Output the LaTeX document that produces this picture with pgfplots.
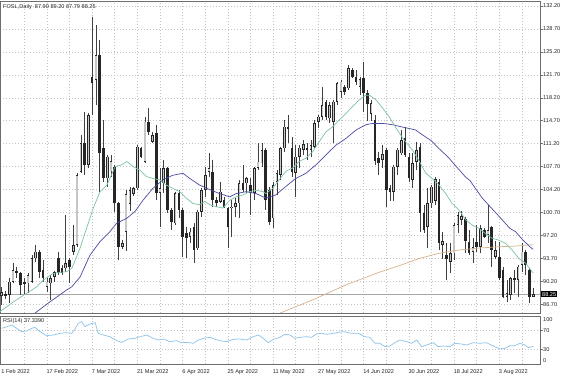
\documentclass[border=0pt]{standalone}
\usepackage{fontspec}
\setmainfont{Liberation Sans}
\usepackage{pgfplots}
\usepackage{pgfplotstable}
\pgfplotsset{compat=1.18}
\definecolor{maGreen}{RGB}{125,195,160}
\definecolor{maBlue}{RGB}{75,75,165}
\definecolor{maTan}{RGB}{215,180,140}
\definecolor{rsiBlue}{RGB}{140,195,232}
\definecolor{gridc}{RGB}{195,195,195}
\definecolor{framec}{RGB}{110,110,110}
\newcommand\chartfont{\fontsize{5.6bp}{6.5bp}\selectfont}

\pgfplotstableread{
k O H L C
0 88.00 89.40 86.60 88.60
1 88.30 88.70 87.60 88.00
2 88.15 90.70 86.90 90.20
3 90.20 92.97 89.90 91.96
4 91.80 92.47 90.69 91.45
5 91.45 91.70 88.15 89.67
6 90.18 90.69 88.15 89.77
7 89.93 91.45 88.40 91.20
8 90.18 94.25 89.93 93.74
9 93.74 95.77 93.23 94.75
10 94.75 95.01 90.69 91.70
11 91.96 93.48 90.18 90.69
12 89.42 90.69 88.66 90.18
13 89.93 91.20 87.39 90.69
14 90.94 91.80 90.18 91.60
15 93.74 94.75 91.20 91.45
16 92.21 92.72 91.20 91.45
17 92.21 100.34 91.70 92.97
18 93.48 93.74 89.93 92.47
19 94.75 98.82 94.25 95.77
20 95.77 106.70 95.50 106.44
21 106.95 112.54 106.70 111.27
22 111.27 116.10 106.44 107.96
23 107.96 115.84 107.46 115.59
24 121.43 130.58 115.59 120.41
25 120.92 129.31 117.11 124.73
26 124.73 127.02 103.90 109.74
27 110.50 114.82 105.42 105.93
28 105.93 109.49 104.66 109.24
29 107.00 109.50 106.20 108.50
30 107.71 107.96 100.85 102.12
31 102.12 102.38 93.48 95.51
32 95.50 96.60 95.10 96.10
33 97.80 104.10 94.80 103.50
34 102.00 104.60 101.00 104.10
35 103.60 104.60 103.30 104.40
36 104.41 111.00 104.15 110.76
37 110.50 110.76 108.98 109.24
38 108.47 115.33 108.22 114.57
39 114.57 116.60 112.50 113.04
40 111.50 113.05 111.27 112.50
41 112.79 114.06 102.60 103.65
42 103.65 107.46 98.50 104.40
43 105.17 108.73 103.65 107.46
44 107.46 107.71 100.60 101.10
45 101.10 101.36 98.06 99.33
46 99.07 103.90 98.82 103.65
47 103.65 104.15 99.83 101.10
48 101.10 101.36 93.99 97.04
49 97.55 98.56 93.74 96.79
50 97.04 98.31 96.02 97.80
51 98.56 99.07 92.97 95.01
52 95.26 101.10 95.01 100.85
53 100.85 104.41 100.09 104.15
54 104.15 107.71 103.14 106.44
55 106.95 109.74 106.19 107.46
56 106.95 108.73 101.61 102.63
57 102.63 103.14 101.61 102.12
58 102.38 105.42 102.12 103.90
59 102.63 103.14 101.36 101.61
60 101.36 101.61 95.26 98.56
61 101.36 102.63 97.04 101.61
62 101.61 102.88 100.09 102.12
63 102.12 105.68 99.83 105.17
64 105.17 107.96 103.90 104.15
65 105.17 106.19 103.65 105.93
66 104.92 105.93 100.34 103.65
67 103.65 107.71 102.63 107.46
68 107.46 111.27 107.20 108.47
69 108.22 111.27 107.71 110.25
70 110.25 110.50 101.10 102.63
71 104.16 104.66 98.82 99.32
72 99.83 105.42 98.31 104.90
73 105.42 107.20 103.39 106.70
74 106.44 110.75 105.68 110.50
75 110.50 114.80 110.00 113.80
76 113.80 115.58 111.27 113.55
77 110.50 112.28 106.19 106.95
78 106.70 111.00 103.14 109.24
79 109.24 111.00 107.46 110.60
80 110.25 111.77 109.49 111.10
81 110.50 111.27 108.73 110.25
82 110.25 111.77 109.24 111.00
83 110.76 114.80 110.50 114.30
84 114.57 115.58 113.55 115.33
85 115.33 119.90 114.82 117.11
86 117.62 117.87 114.82 115.33
87 115.08 117.62 114.30 117.11
88 114.57 117.87 111.27 117.62
89 117.62 120.66 117.11 120.41
90 119.14 120.92 118.12 120.66
91 119.90 120.16 118.63 119.14
92 119.65 123.20 119.40 122.70
93 122.44 122.70 121.17 121.43
94 121.43 122.44 120.16 120.66
95 119.90 121.40 118.60 121.00
96 121.17 123.71 116.09 118.90
97 119.00 119.40 114.60 117.20
98 115.80 117.90 114.60 117.40
99 114.80 115.60 107.90 108.50
100 109.00 110.00 106.50 108.20
101 108.70 111.00 107.50 109.60
102 110.20 110.50 101.60 104.20
103 104.40 104.90 102.40 103.90
104 103.90 108.00 102.40 107.70
105 107.70 110.50 106.40 110.30
106 109.74 113.30 109.49 111.78
107 112.00 113.80 109.20 109.50
108 109.24 109.74 105.40 105.93
109 105.68 109.74 104.41 108.22
110 108.47 111.52 107.20 110.25
111 110.76 111.27 97.80 100.60
112 100.60 101.87 97.55 98.06
113 98.57 104.41 95.26 102.12
114 102.12 104.92 101.36 104.66
115 102.50 106.20 101.90 105.80
116 105.30 105.90 95.00 96.00
117 95.80 97.80 93.70 96.30
118 94.30 96.00 90.50 93.60
119 93.23 96.02 91.45 94.50
120 94.50 99.07 93.50 98.82
121 98.82 100.85 97.55 100.35
122 99.60 100.90 98.80 100.20
123 99.80 100.10 94.50 96.30
124 96.28 98.06 94.25 94.50
125 94.75 96.80 93.00 95.50
126 96.28 98.82 94.75 95.52
127 95.52 98.82 94.50 98.31
128 98.06 98.31 96.80 97.04
129 97.30 101.87 96.02 98.06
130 98.57 98.60 92.47 95.01
131 94.00 96.30 93.70 95.00
132 94.00 96.28 90.44 90.69
133 91.96 92.47 87.64 87.90
134 87.90 90.44 87.13 88.40
135 88.15 90.94 87.39 90.69
136 90.69 91.96 88.40 90.44
137 90.44 92.72 87.90 92.47
138 92.72 96.02 91.71 94.75
139 94.75 95.01 91.20 92.72
140 91.96 92.21 86.88 87.90
141 87.90 89.20 87.79 88.25
}\ohlc

\begin{document}
\begin{tikzpicture}
\useasboundingbox (0,0) rectangle (564bp,376bp);
\fill[white] (0,0) rectangle (564bp,376bp);
% ---------------- main price panel ----------------
\begin{axis}[
  at={(0bp,63bp)}, anchor=south west, scale only axis,
  width=540bp, height=312bp,
  xmin=-0.45, xmax=142.8, ymin=85.4, ymax=132.96,
  clip mode=individual,
  axis line style={framec, line width=0.9bp},
  xtick={6,12,...,138}, xticklabels={}, xtick style={draw=none},
  ytick={86.7,90.2,93.7,97.2,100.7,104.2,107.7,111.2,114.7,118.2,121.7,125.2,128.7,132.2},
  ytick pos=right, yticklabel pos=right,
  tick align=outside, major tick length=2.5bp,
  ytick style={framec, line width=0.6bp},
  /pgf/number format/assume math mode=true,
  yticklabel={\pgfmathprintnumber[fixed,fixed zerofill,precision=2]{\tick}},
  yticklabel style={font=\chartfont, anchor=west, xshift=-0.5bp, inner sep=1bp, text=black!85},
  grid=major, grid style={gridc, line width=0.6bp, dash pattern=on 1bp off 2bp},
]
% current price line
\addplot[black!35, line width=0.6bp] coordinates {(-0.45,88.25) (142.8,88.25)};
% wicks
\addplot[draw=none, mark=none, error bars/.cd, y dir=minus, y explicit, error mark=none,
  error bar style={draw=black!75, line width=0.6bp}]
  table[x=k, y=H, y error minus expr=\thisrow{H}-\thisrow{L}] {\ohlc};
% bodies (outline / bear)
\addplot[draw=none, mark=none, error bars/.cd, y dir=both, y explicit, error mark=none,
  error bar style={draw=black!85, line width=2.6bp}]
  table[x=k, y expr=(\thisrow{O}+\thisrow{C})/2, y error expr={max(abs(\thisrow{O}-\thisrow{C})/2,0.09)}] {\ohlc};
% bull interiors
\addplot[draw=none, mark=none, error bars/.cd, y dir=both, y explicit, error mark=none,
  error bar style={draw=black!22, line width=1.2bp}]
  table[x=k, y expr=(\thisrow{O}+\thisrow{C})/2, y error expr={max((\thisrow{C}-\thisrow{O})/2-0.12,0)}] {\ohlc};
% moving averages
\addplot[maTan, line width=0.7bp] coordinates {(73.9,85.4) (82.9,87.5) (91.8,89.8) (100.6,91.7) (105.9,92.7) (110.7,93.7) (116,94.5) (121.3,95) (126.6,95.3) (131.9,95.5) (136.3,95.6) (140.3,95.8) (141,95.8)};
\addplot[maBlue, line width=0.7bp] coordinates {(8.4,85.2) (12.8,87.1) (17.2,88.9) (18.6,89.4) (20.8,90.9) (23.4,94.2) (26.1,96.3) (28.7,97.8) (30.5,99.1) (33.1,99.8) (35.4,100.9) (37.5,102.6) (40.1,104.4) (42.8,105.7) (45.4,106.4) (48.1,106.7) (49.9,105.9) (52.5,104.9) (55.2,104.2) (57.8,103.6) (60.5,103.1) (62.2,103.6) (64.9,103.9) (67.5,103.6) (70.1,102.9) (72.7,103.4) (75.4,104.7) (78,105.9) (80.7,106.7) (83.4,108) (86,109.5) (88.7,111) (91.3,112) (94,113.3) (96.6,114.1) (98.4,114.3) (101.1,114.3) (103.7,114.1) (105.9,113.8) (109.8,113.3) (111,112.8) (114.1,111.6) (115.4,110.8) (118.7,109.0) (119.7,108.3) (123.1,106.1) (124.2,105.6) (127.5,102.9) (131.5,100.4) (134.8,98.3) (136.3,97.8) (138.3,96.5) (140.5,95.3) (141,95.1)};
\addplot[maGreen, line width=0.7bp] coordinates {(-0.45,85.6) (3.1,87.1) (6.6,88.4) (9.3,89.4) (11,90.4) (13.7,91.45) (17.2,91.7) (18.6,92.2) (20.8,95.3) (22.5,98.3) (24.3,101.4) (26.1,103.9) (27.9,104.9) (30.1,107.7) (31.8,108.0) (33.2,108.5) (34.9,107.7) (36.6,107.2) (38.4,106.2) (40.1,105.9) (41.9,105.7) (43.7,104.9) (45.4,104.4) (47.2,103.9) (49,102.9) (50.7,102.1) (52.5,101.9) (53.8,102.4) (55.2,101.9) (56.9,101.6) (58.7,101.4) (60.5,102.6) (62.2,103.1) (64,103.4) (65.8,103.9) (67.5,104.1) (69.3,103.9) (70.1,103.6) (71.9,104.4) (73.6,105.7) (75.4,107) (77.2,107.5) (78.9,108.5) (80.7,109) (82.5,110) (84.2,111.5) (86,113) (87.8,113.8) (89.5,114.8) (91.3,115.8) (93.1,116.9) (94.9,117.9) (96.6,118.6) (97.5,118.6) (99.3,117.9) (101.1,116.6) (102.8,115.3) (104.6,113.6) (106.7,111.8) (108.9,110.3) (110.7,108.6) (112.5,106.7) (114.2,105.9) (116,104.9) (117.8,103.6) (119.5,102.1) (121.3,101.1) (123.1,99.6) (124.8,98.8) (126.6,98.3) (128.4,97.5) (130.1,96.8) (131.9,96.5) (133.7,96) (135.4,95) (137.2,93.7) (139,93) (140.3,92) (141,91.5)};
\node[font=\chartfont, anchor=north west, inner sep=0pt, text=black!85] at (rel axis cs:0,1) [xshift=3bp, yshift=-3.5bp] {FOSL,Daily\ \ 87.90 89.20 87.79 88.25};
\node[font=\chartfont, anchor=west, fill=black, text=white, inner sep=1bp] at (axis cs:142.8,88.25) [xshift=1bp] {88.25};
\end{axis}
% ---------------- RSI panel ----------------
\begin{axis}[
  at={(0bp,12bp)}, anchor=south west, scale only axis,
  width=540bp, height=48bp,
  xmin=-0.45, xmax=142.8, ymin=0, ymax=100,
  clip mode=individual,
  axis line style={framec, line width=0.9bp},
  xtick={6,12,...,138},
  xticklabels={{},17 Feb 2022,{},7 Mar 2022,{},21 Mar 2022,{},6 Apr 2022,{},25 Apr 2022,{},11 May 2022,{},27 May 2022,{},14 Jun 2022,{},30 Jun 2022,{},18 Jul 2022,{},3 Aug 2022,{}},
  extra x ticks={0}, extra x tick labels={1 Feb 2022}, extra x tick style={grid=none},
  xtick style={draw=none},
  xticklabel style={font=\chartfont, anchor=north west, inner sep=0pt, xshift=-0.5bp, yshift=-2.5bp, text=black!85},
  ytick={30,70}, ytick pos=right, yticklabel pos=right,
  tick align=outside, major tick length=2.5bp,
  ytick style={framec, line width=0.6bp},
  /pgf/number format/assume math mode=true,
  yticklabel={\pgfmathprintnumber{\tick}},
  yticklabel style={font=\chartfont, anchor=west, xshift=-0.5bp, inner sep=1bp, text=black!85},
  grid=major, grid style={gridc, line width=0.6bp, dash pattern=on 1bp off 2bp},
]
\addplot[rsiBlue, line width=0.7bp] coordinates {(0,74.3) (0.88,76.4) (2.64,81.3) (3.97,74.3) (5.3,67.4) (6.6,68.8) (7.95,74.3) (8.83,76.4) (10.2,67.4) (11.9,59) (13.7,60.4) (15.5,63.9) (17.2,65.3) (18.6,63.9) (19.4,72.2) (20.3,84.7) (21.2,88.2) (22.1,77.8) (23.4,83.3) (24.8,86.1) (25.6,63.9) (27,60.4) (28.7,56.9) (30.5,48.6) (31.8,45.1) (33.6,52.1) (35.4,53.5) (36.7,56.9) (38.5,60.4) (40.2,53.5) (41.6,50) (42.9,52.1) (44.6,46.5) (46.4,48.6) (47.7,44.4) (49.5,45.1) (50.8,43.1) (52.2,50) (53.5,53.5) (55.3,55.6) (56.6,51.4) (57.9,48.6) (59.7,46.5) (61.4,51.4) (63.2,52.1) (65,50) (66.7,56.9) (68.1,60.4) (69.4,53.5) (70.7,44.4) (72.1,51.4) (73.8,55.6) (75.1,61.8) (76.5,60.4) (77.8,53.5) (79.1,55.6) (80.9,56.9) (82.2,55.6) (83.5,62.5) (84.9,63.9) (86.2,61.8) (88,63.9) (89.3,66) (90.6,67.4) (91.5,66) (92.8,63.9) (94.6,63.9) (96.3,56.9) (97.7,55.6) (99,43.1) (100.3,43.1) (101.7,36.1) (103,37.5) (104.3,44.4) (105.6,50) (107.4,46.5) (108.7,43.1) (110.1,50) (111.4,36.1) (112.7,39.6) (114.5,44.4) (115.8,36.1) (117.1,37.5) (118.9,36.1) (120.2,43.1) (122,41.7) (123.3,39.6) (125.1,44.4) (126.9,43.1) (128.6,44.4) (130.4,37.5) (132.2,31.3) (133.5,32.6) (134.8,38.2) (136.1,38.2) (137.5,43.1) (138.8,39.6) (139.7,34) (140.6,36.1) (141,37.3)};
\node[font=\chartfont, anchor=north west, inner sep=0pt, text=black!85] at (rel axis cs:0,1) [xshift=3bp, yshift=-2bp] {RSI(14) 37.3390};
\node[font=\chartfont, anchor=north west, inner sep=1bp, text=black!85] at (rel axis cs:1,1) [xshift=2bp, yshift=-0.5bp] {100};
\node[font=\chartfont, anchor=south west, inner sep=1bp, text=black!85] at (rel axis cs:1,0) [xshift=2bp, yshift=0.5bp] {0};
\end{axis}
\end{tikzpicture}
\end{document}
